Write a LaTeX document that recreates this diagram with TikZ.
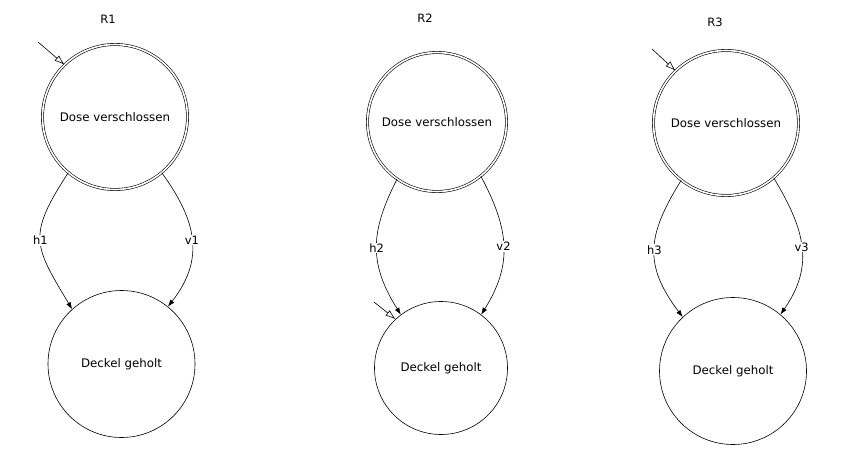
\documentclass[tikz,border=0pt]{standalone}
\usepackage{fontspec}
\setmainfont{DejaVu Sans}
\usetikzlibrary{arrows.meta}
\begin{document}
\begin{tikzpicture}[x=1pt,y=1pt,
  every node/.style={font=\fontsize{11.8}{14}\selectfont},
  state/.style={circle,draw,line width=0.6pt,inner sep=0pt},
  startstate/.style={state,double,double distance=1.6pt},
  trans/.style={line width=0.6pt,-{Latex[length=7pt,width=5pt]}},
  initarrow/.style={line width=0.6pt,-{Latex[open,length=10pt,width=7pt]}},
  elabel/.style={fill=white,inner sep=1pt,font=\fontsize{11.5}{13}\selectfont},
  title/.style={font=\fontsize{11.5}{13}\selectfont}]
\useasboundingbox (0,0) rectangle (841,-455);
% R1
\node[title] (r1) at (108,-19) {R1};
\node[startstate,minimum size=145pt] (t1) at (115,-117) {Dose verschlossen};
\node[state,minimum size=147pt] (b1) at (121.5,-364) {Deckel geholt};
\coordinate (i1) at (38,-42);
\draw[initarrow] (i1) -- (t1.134);
\draw[trans] (t1.230) .. controls +(237:75) and +(121:75) .. node[elabel,pos=0.5] (lh1) {h1} (b1.132);
\draw[trans] (t1.310) .. controls +(-54:60) and +(52:60) .. node[elabel,pos=0.5] (lv1) {v1} (b1.51);
% R2
\node[title] (r2) at (425,-18) {R2};
\node[startstate,minimum size=139pt] (t2) at (437,-122) {Dose verschlossen};
\node[state,minimum size=133pt] (b2) at (441,-368) {Deckel geholt};
\coordinate (i2) at (374,-302);
\draw[initarrow] (i2) -- (b2.133);
\draw[trans] (t2.235) .. controls +(243:60) and +(122:60) .. node[elabel,pos=0.5] (lh2) {h2} (b2.127);
\draw[trans] (t2.309) .. controls +(-62:60) and +(58:60) .. node[elabel,pos=0.5] (lv2) {v2} (b2.53);
% R3
\node[title] (r3) at (715,-22) {R3};
\node[startstate,minimum size=145pt] (t3) at (726,-123) {Dose verschlossen};
\node[state,minimum size=147pt] (b3) at (733,-371) {Deckel geholt};
\coordinate (i3) at (652,-49);
\draw[initarrow] (i3) -- (t3.134);
\draw[trans] (t3.232) .. controls +(238:65) and +(127:65) .. node[elabel,pos=0.5] (lh3) {h3} (b3.133);
\draw[trans] (t3.311) .. controls +(-59:60) and +(55:60) .. node[elabel,pos=0.5] (lv3) {v3} (b3.50);
\end{tikzpicture}
\end{document}
